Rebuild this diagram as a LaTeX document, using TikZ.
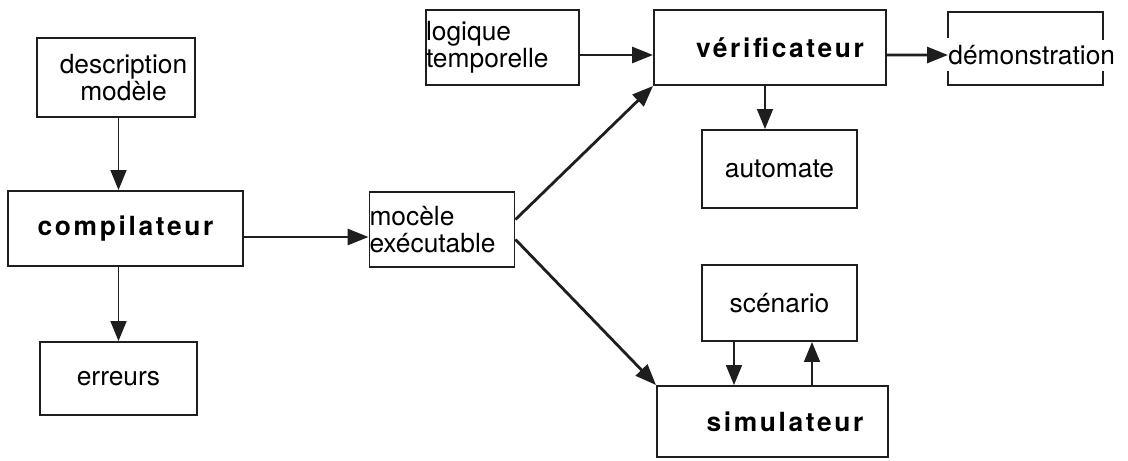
\documentclass[tikz,border=0pt]{standalone}
\usepackage{fontspec}
\setmainfont{TeX Gyre Heros}
\usepackage{tikz}
\usetikzlibrary{arrows.meta,positioning}
\definecolor{ink}{HTML}{1E1E1E}
\newcommand{\spacedbold}{\bfseries\addfontfeature{LetterSpace=10}}
\tikzset{
  boxnode/.style={draw=ink, line width=1.1pt, inner sep=2pt, align=center, font=\fontsize{15}{15.5}\selectfont},
  leftnode/.style={boxnode, align=left, inner xsep=0pt},
  plainnode/.style={inner sep=0pt, font=\fontsize{15}{15.5}\selectfont},
  flow/.style={ink, line width=1.6pt, -{Triangle[length=0.42cm,width=0.32cm]}},
  thinflow/.style={ink, line width=0.9pt, -{Triangle[length=0.4cm,width=0.32cm]}}
}

\begin{document}
\begin{tikzpicture}
  \useasboundingbox (0,0) rectangle (22.56,-9.2);
  % left column
  \node[boxnode, minimum width=3.16cm, minimum height=1.58cm] (desc) at (2.32,-1.55) {\hspace{0.3cm}description\\\hspace{0.3cm}modèle};
  \node[boxnode, minimum width=4.7cm, minimum height=1.5cm] (compil) at (2.51,-4.57) {\spacedbold compilateur};
  \node[boxnode, minimum width=3.14cm, minimum height=1.46cm] (erreurs) at (2.37,-7.57) {erreurs};
  \node[leftnode, text width=2.9cm, minimum height=1.5cm] (modele) at (8.84,-4.59) {mocèle\\exécutable};
  % upper row
  \node[leftnode, text width=3.06cm, minimum height=1.5cm] (logique) at (10.05,-0.95) {logique\\temporelle};
  \node[boxnode, minimum width=4.64cm, minimum height=1.5cm] (verif) at (15.4,-0.95) {\hspace{0.4cm}\spacedbold vérificateur};
  \node[plainnode, anchor=west] (demo) at (18.96,-1.1) {démonstration};
  \node[boxnode, minimum width=3.1cm, minimum height=1.56cm] (automate) at (15.59,-3.38) {automate};
  % lower right
  \node[boxnode, minimum width=3.1cm, minimum height=1.52cm] (scenario) at (15.59,-6.06) {scénario};
  \node[boxnode, minimum width=4.62cm, minimum height=1.42cm] (simul) at (15.45,-8.43) {\hspace{0.5cm}\spacedbold simulateur};

  % open box round demonstration
  \draw[ink, line width=1.1pt] (18.96,-0.76) -- (18.96,-0.24) -- (22.06,-0.24) -- (22.06,-0.8);
  \draw[ink, line width=1.1pt] (18.96,-1.42) -- (18.96,-1.7) -- (22.06,-1.7) -- (22.06,-1.42);

  % connectors
  \draw[thinflow] (desc.south -| erreurs) -- (erreurs |- compil.north);
  \draw[thinflow] (compil.south -| erreurs) -- (erreurs.north);
  \draw[flow] ([yshift=-0.17cm]compil.east) -- ([yshift=-0.17cm]compil.east -| modele.west);
  \draw[flow] ([yshift=-0.15cm]logique.east) -- ([yshift=-0.15cm]logique.east -| verif.west);
  \draw[flow] ([yshift=0.2cm]modele.east) -- (verif.south west);
  \draw[flow] ([yshift=-0.2cm]modele.east) -- (simul.north west);
  \draw[flow] ([yshift=-0.15cm]verif.east) -- (demo.west);
  \draw[thinflow] ([xshift=-0.1cm]verif.south) -- ([xshift=-0.1cm]verif.south |- automate.north);
  \draw[thinflow] ([xshift=-0.91cm]scenario.south) -- ([xshift=-0.91cm]scenario.south |- simul.north);
  \draw[thinflow] ([xshift=0.65cm]scenario.south |- simul.north) -- ([xshift=0.65cm]scenario.south);
\end{tikzpicture}
\end{document}
